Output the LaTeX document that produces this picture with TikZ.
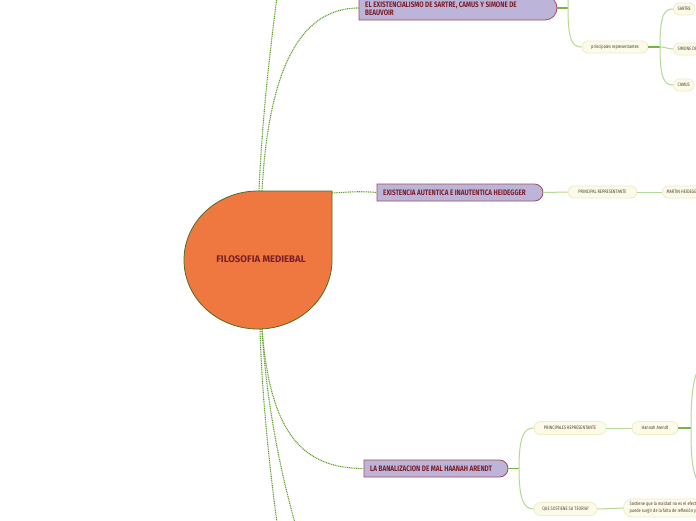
\documentclass[tikz,border=0pt]{standalone}
\usepackage{fontspec}
\newfontfamily\mainf[FakeStretch=0.8]{Fira Sans}
\newfontfamily\wide{Fira Sans}
\usetikzlibrary{shapes.misc}
\definecolor{dotg}{HTML}{5E9E2A}
\definecolor{lg}{HTML}{B4D896}
\definecolor{dg}{HTML}{7AB24A}
\definecolor{boxfill}{HTML}{BDB5D9}
\definecolor{boxdraw}{HTML}{9A4E5E}
\definecolor{boxtext}{HTML}{7A1F2A}
\definecolor{pillfill}{HTML}{FCFBEA}
\definecolor{pilldraw}{HTML}{F1EBC6}
\definecolor{pilltext}{HTML}{524030}
\definecolor{orangef}{HTML}{EF7840}
\definecolor{orangeb}{HTML}{4E6E22}
\tikzset{
  dotline/.style={draw=dotg, line width=1.1pt, dash pattern=on 1pt off 0.8pt},
  sub/.style={draw=lg, line width=1pt},
  stub/.style={draw=dg, line width=1.4pt},
  mainbox/.style={rounded rectangle, rounded rectangle left arc=none, fill=boxfill, draw=boxdraw, line width=0.8pt, inner sep=0pt},
  maintext/.style={font=\mainf\bfseries\fontsize{7.9}{8.2}\selectfont, text=boxtext, anchor=west, inner sep=0pt, align=left},
  pill/.style={rounded rectangle, fill=pillfill, draw=pilldraw, line width=0.8pt, inner sep=0pt, font=\mainf\fontsize{4.9}{7}\selectfont, text=pilltext},
}
\begin{document}
\begin{tikzpicture}[x=1pt,y=-1pt]
\useasboundingbox (0,0) rectangle (696,520);
\fill[white] (0,0) rectangle (696,520);
\clip (0,0) rectangle (696,520);

% central shape
\draw[fill=orangef, draw=orangeb, line width=0.8pt] (332,260) arc[start angle=0, end angle=270, x radius=74, y radius=69] -- (332,191) -- cycle;
\node[font=\wide\bfseries\fontsize{9.6}{10}\selectfont, text=boxtext] (c) at (261,259) {FILOSOFIA MEDIEBAL};
\coordinate (ctop) at (259,191);
\coordinate (ctop2) at (262,191);
\coordinate (ccor) at (332,193);
\coordinate (cbot) at (260,329);
\coordinate (cbot2) at (262,329);
\coordinate (topend) at (277,-3);
\coordinate (bend1) at (277,523);
\coordinate (bend2) at (295,523);

% main boxes
\node[mainbox, minimum width=198pt, minimum height=24pt] (b1) at (458,8) {};
\node[maintext] (t1) at (365,9) {EL EXISTENCIALISMO DE SARTRE, CAMUS Y SIMONE DE\\BEAUVOIR};
\node[mainbox, minimum width=166pt, minimum height=17pt] (b2) at (460,192.5) {};
\node[maintext] (t2) at (383,192.5) {EXISTENCIA AUTENTICA E INAUTENTICA HEIDEGGER};
\node[mainbox, minimum width=144pt, minimum height=17pt] (b3) at (436,468.5) {};
\node[maintext] (t3) at (370,468.5) {LA BANALIZACION DE MAL HAANAH ARENDT};

% dotted connectors
\draw[dotline] (ctop) .. controls (262,120) and (270,50) .. (topend);
\draw[dotline] (ctop2) .. controls (268,80) and (295,8) .. (b1.west);
\draw[dotline] (ccor) .. controls (350,192) and (360,191) .. (b2.west);
\draw[dotline] (cbot2) .. controls (270,430) and (300,468.5) .. (b3.west);
\draw[dotline] (cbot) .. controls (262,400) and (270,470) .. (bend1);
\draw[dotline] (cbot2) .. controls (266,400) and (280,470) .. (bend2);

% subtree 1
\node[pill, minimum width=66pt, minimum height=12pt] (p1) at (615,47) {principales representantes};
\node[pill, anchor=west, minimum height=12pt, inner xsep=4pt] (s1) at (673,9) {SARTRE};
\node[pill, anchor=west, minimum height=12pt, inner xsep=4pt] (s2) at (673,49) {SIMONE DE BEAUVOIR};
\node[pill, anchor=west, minimum height=12pt, inner xsep=4pt] (s3) at (673,85) {CAMUS};
\coordinate (j1) at (568,8);
\coordinate (up1) at (570,-25);
\coordinate (j2) at (660,47);
\draw[stub] (b1.east) -- (j1);
\draw[sub] (j1) .. controls (568,-5) and (568,-10) .. (up1);
\draw[sub] (j1) .. controls (568,40) and (572,47) .. (p1.west);
\draw[stub] (p1.east) -- (j2);
\draw[sub] (j2) .. controls (660,15) and (664,9) .. (s1.west);
\draw[sub] (j2) .. controls (666,47) and (668,49) .. (s2.west);
\draw[sub] (j2) .. controls (660,78) and (664,85) .. (s3.west);

% subtree 2
\node[pill, minimum width=69pt, minimum height=12pt] (p2) at (602.5,192) {PRINCIPAL REPRESENTANTE};
\node[pill, anchor=west, minimum height=12pt, inner xsep=4pt] (m1) at (662,192) {MARTIN HEIDEGGER};
\draw[sub] (b2.east) -- (p2.west);
\draw[sub] (p2.east) -- (m1.west);

% subtree 3
\node[pill, minimum width=72pt, minimum height=13pt] (p3) at (570,428) {PRINCIPALES REPRESENTANTE};
\node[pill, minimum width=63pt, minimum height=13pt] (p4) at (565.5,509) {QUE SOSTIENE SU TEORIA?};
\node[pill, minimum width=46pt, minimum height=13pt] (h1) at (655,428) {Hannah Arendt};
\node[pill, anchor=west, minimum height=18pt, inner xsep=4pt, align=left] (q1) at (623,508) {Sostiene que la maldad no es el efecto de seres monstruosos, sino que\\puede surgir de la falta de reflexión y de pensamiento};
\coordinate (j3) at (519,468.5);
\coordinate (j4) at (691,428);
\coordinate (e1) at (705,360);
\coordinate (e2) at (705,490);
\draw[stub] (b3.east) -- (j3);
\draw[sub] (j3) .. controls (519,436) and (524,428) .. (p3.west);
\draw[sub] (j3) .. controls (519,500) and (524,509) .. (p4.west);
\draw[sub] (p3.east) -- (h1.west);
\draw[stub] (h1.east) -- (j4);
\draw[sub] (j4) .. controls (691,400) and (692,370) .. (e1);
\draw[sub] (j4) .. controls (691,460) and (692,480) .. (e2);
\draw[sub] (p4.east) -- (q1.west);
\end{tikzpicture}
\end{document}
